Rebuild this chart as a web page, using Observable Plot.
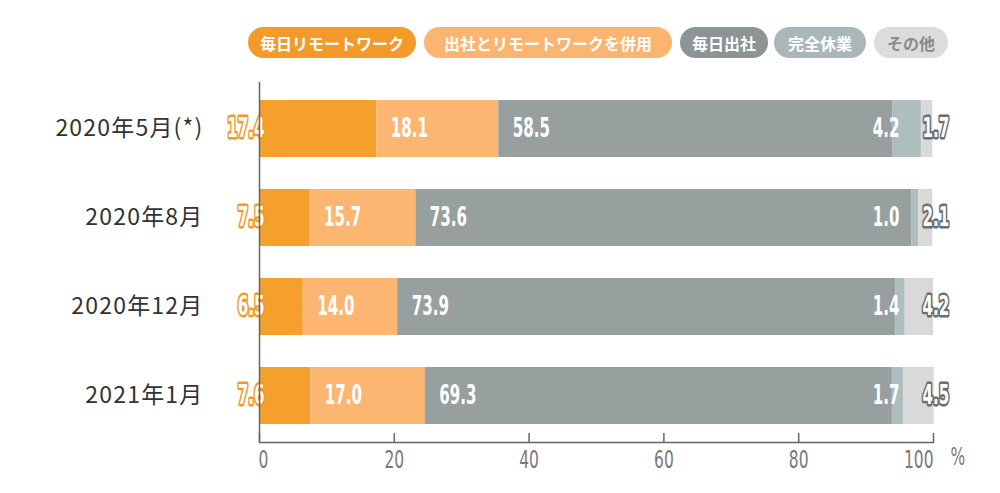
<!DOCTYPE html>
<html><head><meta charset="utf-8">
<script src="https://cdn.jsdelivr.net/npm/d3@7"></script>
<script src="https://cdn.jsdelivr.net/npm/@observablehq/plot@0.6"></script>
<style>
body{margin:0;background:#fff;}
#legend{height:70px;position:relative;width:1000px;}
.pill{position:absolute;top:27px;height:31px;border-radius:16px;color:#fff;font:700 16px "Noto Sans CJK JP",sans-serif;display:flex;align-items:center;justify-content:center;white-space:nowrap;}
</style></head><body>
<div id="legend"></div><div id="chart"></div>
<script>
const categories = ["2020年5月(*)", "2020年8月", "2020年12月", "2021年1月"];
const seriesNames = ["毎日リモートワーク", "出社とリモートワークを併用", "毎日出社", "完全休業", "その他"];
const remoteDaily = [17.4, 7.5, 6.5, 7.6];
const hybrid = [18.1, 15.7, 14.0, 17.0];
const officeDaily = [58.5, 73.6, 73.9, 69.3];
const fullLeave = [4.2, 1.0, 1.4, 1.7];
const other = [1.7, 2.1, 4.2, 4.5];
const xTicks = [0, 20, 40, 60, 80, 100];
const unitLabel = "%";

const seriesValues = [remoteDaily, hybrid, officeDaily, fullLeave, other];
const barColors = ["#F59F2D", "#FCB672", "#97A09E", "#AEBDBE", "#D9D9D9"];
const pillColors = ["#F39A2B", "#FBB570", "#8B9593", "#A9B7B8", "#DCDCDC"];
const pillText = ["#fff", "#fff", "#fff", "#fff", "#8a8a8a"];
const pillLeft = [248, 424, 680, 774, 874];
const pillWidth = [168, 248, 88, 92, 74];

const legend = document.getElementById("legend");
seriesNames.forEach((s, i) => {
  const p = document.createElement("div");
  p.className = "pill";
  p.textContent = s;
  p.style.left = pillLeft[i] + "px";
  p.style.width = pillWidth[i] + "px";
  p.style.background = pillColors[i];
  p.style.color = pillText[i];
  legend.appendChild(p);
});

const rows = categories.flatMap((c, i) => seriesNames.map((s, j) => ({cat: c, series: s, k: j, value: seriesValues[j][i]})));
const byK = k => rows.filter(d => d.k === k);
const fmt = v => v.toFixed(1);
const NUM = '"DejaVu Sans",sans-serif';
const numStyle = {fontSize: 26, fontWeight: "bold", fontFamily: NUM};
const tickStyle = {fontSize: 25, fontFamily: NUM, fill: "#7a7a7a"};

const chart = Plot.plot({
  width: 1000,
  height: 423,
  marginLeft: 259,
  marginRight: 67,
  marginTop: 12,
  marginBottom: 51,
  x: {domain: [0, 100], label: null},
  y: {domain: categories, paddingInner: 0.3645, paddingOuter: 0.19, label: null},
  color: {domain: seriesNames, range: barColors},
  style: {fontFamily: '"Noto Sans CJK JP",sans-serif', background: "#fff"},
  marks: [
    Plot.barX(rows, Plot.stackX({x: "value", y: "cat", fill: "series", z: "series"})),
    Plot.text(rows, Plot.stackX1({x: "value", y: "cat", z: "series",
      text: d => (d.k === 1 || d.k === 2) ? fmt(d.value) : "",
      textAnchor: "start", dx: 14, fill: "white", ...numStyle})),
    Plot.text(byK(0), {y: "cat", text: d => fmt(d.value), frameAnchor: "left", textAnchor: "end", dx: 5,
      fill: "white", stroke: "#F39A2B", strokeWidth: 5, strokeLinejoin: "round", paintOrder: "stroke", ...numStyle}),
    Plot.text(byK(3), {y: "cat", text: d => fmt(d.value), frameAnchor: "right", textAnchor: "end", dx: -34,
      fill: "white", ...numStyle}),
    Plot.text(byK(4), {y: "cat", text: d => fmt(d.value), frameAnchor: "right", textAnchor: "start", dx: -11,
      fill: "white", stroke: "#6d6d6d", strokeWidth: 5, strokeLinejoin: "round", paintOrder: "stroke", ...numStyle}),
    Plot.frame({anchor: "bottom", stroke: "#666", strokeWidth: 1.5}),
    Plot.ruleX([0], {stroke: "#666", strokeWidth: 1.5}),
    Plot.axisX({ticks: xTicks, tickSize: -9, text: null, stroke: "#666", strokeWidth: 1.5, label: null}),
    Plot.axisX({ticks: xTicks.filter(t => t === 0), tickSize: 0, tickPadding: 8, textAnchor: "start", dx: -1, label: null, ...tickStyle}),
    Plot.axisX({ticks: xTicks.filter(t => t > 0 && t < 100), tickSize: 0, tickPadding: 8, label: null, ...tickStyle}),
    Plot.axisX({ticks: xTicks.filter(t => t === 100), tickSize: 0, tickPadding: 8, textAnchor: "end", label: null, ...tickStyle}),
    Plot.axisY({tickSize: 0, tickPadding: 56, fontSize: 23, fill: "#333", label: null}),
    Plot.text([unitLabel], {frameAnchor: "bottom-right", dx: 17, dy: 22, text: d => d, textAnchor: "start", ...tickStyle})
  ]
});
function squeeze(t, s) {
  const tr = t.getAttribute("transform");
  if (tr && tr.includes("translate")) {
    t.setAttribute("transform", tr + ` scale(${s},1)`);
  } else {
    const x = +(t.getAttribute("x") || 0);
    t.setAttribute("transform", `translate(${x},0) scale(${s},1) translate(${-x},0)` + (tr ? " " + tr : ""));
  }
}
chart.querySelectorAll('g[font-size="26"] text').forEach(t => squeeze(t, 0.58));
chart.querySelectorAll('g[font-size="25"] text').forEach(t => squeeze(t, 0.62));
chart.querySelectorAll('g[font-size="23"] text').forEach(t => { t.style.letterSpacing = "1.2px"; });
document.getElementById("chart").appendChild(chart);
</script>
</body></html>
